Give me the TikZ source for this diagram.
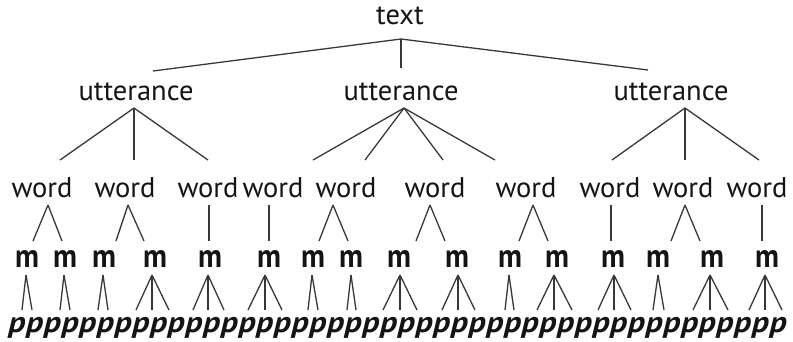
\documentclass[tikz,border=0pt]{standalone}
\usepackage{fontspec}
\setmainfont{PT Sans}
\begin{document}
\begin{tikzpicture}[x=1pt,y=-1pt,
  lab/.style={font=\fontsize{28.5}{28.5}\selectfont, text=black!92, inner sep=0pt, anchor=base},
  mlab/.style={font=\fontsize{33}{33}\selectfont\bfseries, text=black!92, inner sep=0pt, anchor=base},
  plab/.style={font=\fontsize{29.5}{29.5}\selectfont\bfseries\itshape, text=black!92, inner sep=0pt, anchor=base},
  branch/.style={draw=black!78, line width=1.3pt}]
\fill[white] (0,0) rectangle (793,341);
\useasboundingbox (0,0) rectangle (793,341);

% levels of the tree
\node[lab] (top) at (400,24) {text};
\foreach \n/\x in {u1/136,u2/401,u3/671}
  \node[lab] (\n) at (\x,100) {utterance};
\foreach \n/\x in {w1/42,w2/125,w3/208,w4/273,w5/346,w6/435,w7/526,w8/610,w9/683,w10/757}
  \node[lab] (\n) at (\x,197) {word};
\foreach \i/\x in {1/27,2/65,3/104,4/155,5/210,6/269,7/313,8/351,9/399,10/457,11/510,12/557,13/613,14/658,15/712,16/767}
  \node[mlab] (m\i) at (\x,267) {\scalebox{0.9}[1]{m}};
\foreach \i in {1,...,44}
  \node[plab] (p\i) at ({17+(\i-1)*17.7},332) {\scalebox{1.15}[1]{p}};

% branch apexes below each parent: name/x/y
\foreach \a/\ax/\ay in {top-a/401/39,
    u1-a/134/108, u2-a/404/108, u3-a/685/108,
    w1-a/48/205, w2-a/128/205, w3-a/209/205, w4-a/269/205, w5-a/333/205,
    w6-a/430/205, w7-a/533/205, w8-a/611/205, w9-a/685/205, w10-a/762/205,
    m1-a/26/275, m2-a/64/275, m3-a/103/275, m4-a/152/275, m5-a/208/275,
    m6-a/265/275, m7-a/312/275, m8-a/351/275, m9-a/400/275, m10-a/458/275,
    m11-a/509/275, m12-a/554/275, m13-a/614/275, m14-a/658/275,
    m15-a/710/275, m16-a/765/275}
  \coordinate (\a) at (\ax,\ay);

% branches: apex/end x/end y
\foreach \a/\bx/\by in {top-a/153/71, top-a/401/68, top-a/648/70,
    u1-a/60/160, u1-a/134/160, u1-a/208/160,
    u2-a/313/160, u2-a/365/160, u2-a/443/160, u2-a/495/160,
    u3-a/612/160, u3-a/685/160, u3-a/759/160,
    w1-a/33/241, w1-a/62/241, w2-a/116/241, w2-a/144/241,
    w3-a/209/241, w4-a/269/241,
    w5-a/319/241, w5-a/348/241, w6-a/416/241, w6-a/445/241,
    w7-a/519/241, w7-a/548/241, w8-a/611/241,
    w9-a/671/241, w9-a/700/241, w10-a/762/241,
    m1-a/22/310, m1-a/32/310, m2-a/60/310, m2-a/70/310,
    m3-a/98/310, m3-a/108/310,
    m4-a/136/310, m4-a/152/310, m4-a/169/310,
    m5-a/193/310, m5-a/208/310, m5-a/224/310,
    m6-a/248/310, m6-a/265/310, m6-a/282/310,
    m7-a/308/310, m7-a/318/310, m8-a/347/310, m8-a/356/310,
    m9-a/383/310, m9-a/400/310, m9-a/417/310,
    m10-a/442/310, m10-a/458/310, m10-a/475/310,
    m11-a/505/310, m11-a/514/310,
    m12-a/537/310, m12-a/554/310, m12-a/572/310,
    m13-a/598/310, m13-a/614/310, m13-a/631/310,
    m14-a/653/310, m14-a/664/310,
    m15-a/693/310, m15-a/710/310, m15-a/728/310,
    m16-a/749/310, m16-a/765/310, m16-a/782/310}
  \draw[branch] (\a) -- (\bx,\by);
\end{tikzpicture}
\end{document}
